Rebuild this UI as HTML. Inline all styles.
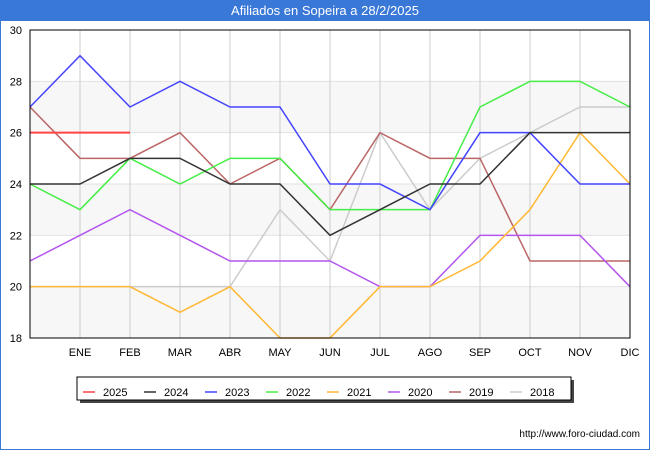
<!DOCTYPE html>
<html><head><meta charset="utf-8"><style>
body{margin:0;width:650px;height:450px;overflow:hidden;background:#fff;font-family:"Liberation Sans",sans-serif;}
</style></head><body>
<svg width="650" height="450" style="position:absolute;left:0;top:0">
<rect x="0.5" y="0.5" width="649" height="449" fill="#fff" stroke="#3a78d8"/>
<rect x="0" y="0" width="650" height="21" fill="#3a78d8"/>
<text x="325" y="15" text-anchor="middle" font-size="13" fill="#fff">Afiliados en Sopeira a 28/2/2025</text>
<g id="plot"></g>
<text x="640" y="437" text-anchor="end" font-size="10" fill="#000">http://www.foro-ciudad.com</text>
</svg>
<script>
const months=["","ENE","FEB","MAR","ABR","MAY","JUN","JUL","AGO","SEP","OCT","NOV","DIC"];
const yTicks=[18,20,22,24,26,28,30];
const seriesNames=["2025","2024","2023","2022","2021","2020","2019","2018"];
const colors=["#ff4444","#333333","#4444ff","#44ee44","#ffb833","#b355ee","#bb6666","#cccccc"];
const s2025=[26,26,26];
const s2024=[24,24,25,25,24,24,22,23,24,24,26,26,26];
const s2023=[27,29,27,28,27,27,24,24,23,26,26,24,24];
const s2022=[24,23,25,24,25,25,23,23,23,27,28,28,27];
const s2021=[20,20,20,19,20,18,18,20,20,21,23,26,24];
const s2020=[21,22,23,22,21,21,21,20,20,22,22,22,20];
const s2019=[27,25,25,26,24,25,23,26,25,25,21,21,21];
const s2018=[20,20,20,20,20,23,21,26,23,25,26,27,27];
const data=[s2025,s2024,s2023,s2022,s2021,s2020,s2019,s2018];
const NS="http://www.w3.org/2000/svg";
const g=document.getElementById("plot");
const L=30,R=630,T=30,B=338,ymin=18,ymax=30;
const xs=i=>L+i*(R-L)/12, ys=v=>B-(v-ymin)*(B-T)/(ymax-ymin);
function mk(t,a){const e=document.createElementNS(NS,t);for(const k in a)e.setAttribute(k,a[k]);g.appendChild(e);return e;}
for(let v=18;v<30;v+=4){const r=mk("rect",{x:L,y:ys(v+2),width:R-L,height:ys(v)-ys(v+2),fill:"#f7f7f7"});

}
yTicks.forEach(v=>{const l=mk("line",{x1:L,x2:R,y1:ys(v),y2:ys(v),stroke:"#e2e2e2"});


const t=mk("text",{x:22,y:ys(v)+4,"text-anchor":"end","font-size":"11",fill:"#000"});t.textContent=v;

});
months.forEach((m,i)=>{if(i>0){const l=mk("line",{x1:xs(i),x2:xs(i),y1:T,y2:B,stroke:"#cccccc"});

}
const t=mk("text",{x:xs(i),y:356,"text-anchor":"middle","font-size":"11",fill:"#000"});t.textContent=m;

});
for(let k=data.length-1;k>=0;k--){const p=data[k].map((v,i)=>xs(i)+","+ys(v)).join(" ");
const pl=mk("polyline",{points:p,fill:"none",stroke:colors[k],"stroke-width":k==0?2:1.5});

}
const ax=mk("rect",{x:L,y:T,width:R-L,height:B-T,fill:"none",stroke:"#000"});


const lg=mk("rect",{x:80,y:380,width:494,height:23,fill:"#444"});


const lb=mk("rect",{x:77,y:377,width:494,height:23,fill:"#fff",stroke:"#000"});


seriesNames.forEach((n,k)=>{const x0=83+k*61;
const l=mk("line",{x1:x0,x2:x0+12,y1:392,y2:392,stroke:colors[k],"stroke-width":1.5});


const t=mk("text",{x:x0+20,y:396,"font-size":"11",fill:"#000"});t.textContent=n;

});
</script>
</body></html>
